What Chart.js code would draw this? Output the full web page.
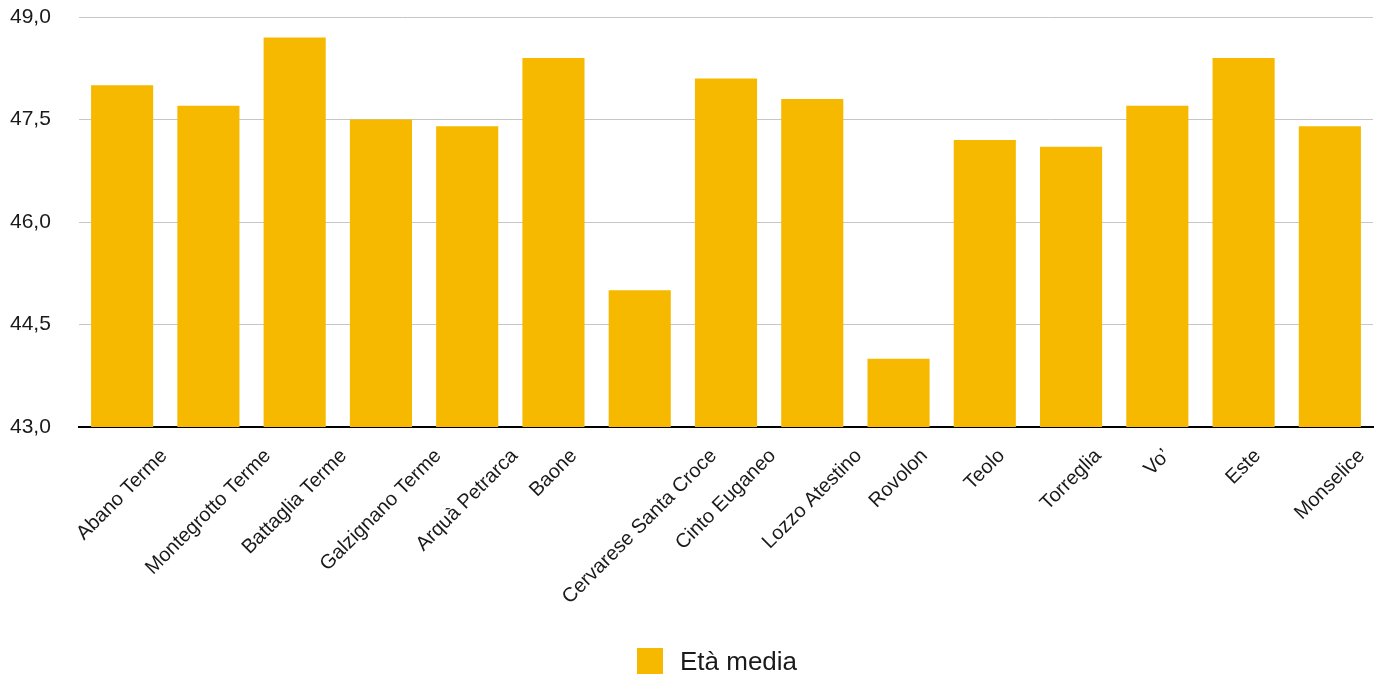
<!DOCTYPE html>
<html lang="it">
<head>
<meta charset="utf-8">
<title>Età media per comune</title>
<script src="https://cdn.jsdelivr.net/npm/chart.js@4/dist/chart.umd.min.js"></script>
<style>
  html, body { margin: 0; padding: 0; background: #fff; overflow: hidden; }
  #wrap { position: relative; width: 1386px; height: 675px; }
</style>
</head>
<body>
<div id="wrap"><canvas id="chart"></canvas></div>
<script>
const comuni = [
  "Abano Terme", "Montegrotto Terme", "Battaglia Terme", "Galzignano Terme",
  "Arquà Petrarca", "Baone", "Cervarese Santa Croce", "Cinto Euganeo",
  "Lozzo Atestino", "Rovolon", "Teolo", "Torreglia", "Vo’", "Este", "Monselice"
];
const etaMedia = [48.0, 47.7, 48.7, 47.5, 47.4, 48.4, 45.0, 48.1, 47.8, 44.0, 47.2, 47.1, 47.7, 48.4, 47.4];
const yMin = 43;
const yMax = 49;
const yStep = 1.5;

const FONT = '"Liberation Sans", Arial, Helvetica, sans-serif';
const GOLD = "#F6B900";
const INK = "#1a1a1a";

// category labels slanted 45°, each one centred under its bar
const slantedLabels = {
  id: "slantedLabels",
  afterDraw(chart) {
    const { ctx, scales } = chart;
    const x = scales.x;
    const top = chart.chartArea.bottom + 19;
    ctx.save();
    ctx.font = `20px ${FONT}`;
    ctx.fillStyle = INK;
    ctx.textAlign = "center";
    ctx.textBaseline = "middle";
    comuni.forEach((label, i) => {
      const w = ctx.measureText(label).width;
      const half = (w + 19) / (2 * Math.SQRT2);
      ctx.save();
      ctx.translate(x.getPixelForValue(i), top + half);
      ctx.rotate(-Math.PI / 4);
      ctx.fillText(label, 0, 0);
      ctx.restore();
    });
    ctx.restore();
  }
};

// single-entry legend under the labels
const bottomLegend = {
  id: "bottomLegend",
  afterDraw(chart) {
    const { ctx } = chart;
    const ds = chart.data.datasets[0];
    ctx.save();
    ctx.fillStyle = ds.backgroundColor;
    ctx.fillRect(637, 648, 26, 26);
    ctx.font = `26px ${FONT}`;
    ctx.fillStyle = INK;
    ctx.textAlign = "left";
    ctx.textBaseline = "alphabetic";
    ctx.fillText(ds.label, 680, 670);
    ctx.restore();
  }
};

const chart = new Chart(document.getElementById("chart"), {
  type: "bar",
  data: {
    labels: comuni,
    datasets: [{
      label: "Età media",
      data: etaMedia,
      backgroundColor: GOLD,
      borderWidth: 0,
      barPercentage: 0.72,
      categoryPercentage: 1
    }]
  },
  options: {
    responsive: true,
    maintainAspectRatio: false,
    animation: false,
    events: [],
    layout: { padding: { top: 17, right: 13, left: 10, bottom: 0 } },
    scales: {
      x: {
        grid: { display: false },
        border: { display: true, color: "#000", width: 2 },
        ticks: { display: false },
        afterFit(scale) { scale.height = 248; }
      },
      y: {
        min: yMin,
        max: yMax,
        grid: { color: "#c6c6c6", lineWidth: 1, drawTicks: false },
        border: { display: false },
        ticks: {
          stepSize: yStep,
          padding: 0,
          crossAlign: "far",
          color: INK,
          font: { family: FONT, size: 21 },
          callback: (v) => v.toFixed(1).replace(".", ",")
        },
        afterFit(scale) { scale.width = 69; }
      }
    },
    plugins: {
      tooltip: { enabled: false },
      legend: { display: false }
    }
  },
  plugins: [slantedLabels, bottomLegend]
});
</script>
</body>
</html>
